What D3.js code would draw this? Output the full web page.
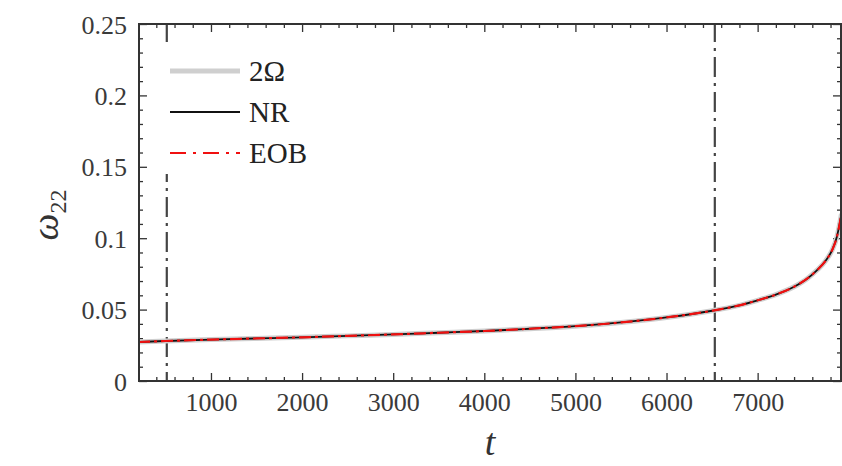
<!DOCTYPE html>
<html>
<head>
<meta charset="utf-8">
<script src="https://cdn.jsdelivr.net/npm/d3@7"></script>
<style>
  html, body { margin: 0; padding: 0; background: #fff; }
  svg { display: block; }
  svg text { font-family: "Liberation Serif", "Times New Roman", Times, "DejaVu Serif", serif !important; }
</style>
</head>
<body>
<svg id="chart" width="842" height="466"></svg>
<script>
// Time samples and frequency of the (2,2) mode
const tValues = [200, 500, 1000, 1500, 2000, 2500, 3000, 3500, 4000, 4500, 5000, 5500,
                 6000, 6500, 6800, 7000, 7200, 7400, 7550, 7650, 7750, 7820, 7870, 7900, 7920];
const omegaOrbit2 = [0.0273, 0.0280, 0.0290, 0.0298, 0.0306, 0.0316, 0.0326, 0.0338, 0.0350, 0.0366,
                     0.0384, 0.0410, 0.0445, 0.0492, 0.0530, 0.0565, 0.0605, 0.0660, 0.0720, 0.0775,
                     0.0845, 0.0920, 0.1010, 0.1100, 0.1170];
const omegaNR = [0.0273, 0.0280, 0.0290, 0.0298, 0.0306, 0.0316, 0.0326, 0.0338, 0.0350, 0.0366,
                 0.0384, 0.0410, 0.0445, 0.0492, 0.0530, 0.0565, 0.0605, 0.0660, 0.0720, 0.0775,
                 0.0845, 0.0920, 0.1010, 0.1100, 0.1170];
const omegaEOB = [0.0273, 0.0280, 0.0290, 0.0298, 0.0306, 0.0316, 0.0326, 0.0338, 0.0350, 0.0366,
                  0.0384, 0.0410, 0.0445, 0.0492, 0.0530, 0.0565, 0.0605, 0.0660, 0.0720, 0.0775,
                  0.0845, 0.0920, 0.1010, 0.1100, 0.1170];
const markerTimes = [515, 6530];
const xTicks = [1000, 2000, 3000, 4000, 5000, 6000, 7000];
const yTicks = [0, 0.05, 0.1, 0.15, 0.2, 0.25];
const yTickLabels = ["0", "0.05", "0.1", "0.15", "0.2", "0.25"];
const legendNames = ["2\u03A9", "NR", "EOB"];

const svg = d3.select("#chart");
const pLeft = 139, pTop = 24, pRight = 841, pBottom = 381;

const x = d3.scaleLinear().domain([210, 7915]).range([pLeft, pRight]);
const y = d3.scaleLinear().domain([0, 0.25]).range([pBottom, pTop]);

const frameColor = "#333";
const textColor = "#3a3a3a";

svg.append("defs").append("clipPath").attr("id", "plotClip")
  .append("rect").attr("x", pLeft).attr("y", pTop)
  .attr("width", pRight - pLeft).attr("height", pBottom - pTop);

// minor tick positions
const xMinor = d3.range(400, 7915, 200).filter(v => v % 1000 !== 0);
const yMinor = d3.range(0.01, 0.25, 0.01).filter(v => Math.abs(v / 0.05 - Math.round(v / 0.05)) > 1e-6);

function tickAxis(axisGen, transform) {
  const g = svg.append("g").attr("transform", transform).call(axisGen);
  g.attr("font-family", null);
  g.select(".domain").remove();
  g.selectAll(".tick line").attr("stroke", frameColor).attr("stroke-width", 1.3);
  return g;
}

// minor ticks (all four sides, pointing inward)
tickAxis(d3.axisBottom(x).tickValues(xMinor).tickSize(-4).tickFormat(""), `translate(0,${pBottom})`);
tickAxis(d3.axisTop(x).tickValues(xMinor).tickSize(-4).tickFormat(""), `translate(0,${pTop})`);
tickAxis(d3.axisLeft(y).tickValues(yMinor).tickSize(-4).tickFormat(""), `translate(${pLeft},0)`);
tickAxis(d3.axisRight(y).tickValues(yMinor).tickSize(-4).tickFormat(""), `translate(${pRight},0)`);

// major ticks with labels
const xAxis = tickAxis(d3.axisBottom(x).tickValues(xTicks).tickSize(-8).tickPadding(22).tickFormat(d3.format("d")),
  `translate(0,${pBottom})`);
xAxis.selectAll(".tick text").attr("font-size", 26).attr("fill", textColor).attr("dy", "0.3em");
tickAxis(d3.axisTop(x).tickValues(xTicks).tickSize(-8).tickFormat(""), `translate(0,${pTop})`);
const yAxis = tickAxis(d3.axisLeft(y).tickValues(yTicks).tickSize(-8).tickPadding(12)
  .tickFormat((d, i) => yTickLabels[i]), `translate(${pLeft},0)`);
yAxis.selectAll(".tick text").attr("font-size", 26).attr("fill", textColor).attr("dy", "0.35em");
tickAxis(d3.axisRight(y).tickValues(yTicks).tickSize(-8).tickFormat(""), `translate(${pRight},0)`);

// curves
const pts = (vals) => tValues.map((t, i) => [t, vals[i]]);
const line = d3.line().x(d => x(d[0])).y(d => y(d[1])).curve(d3.curveMonotoneX);
const plot = svg.append("g").attr("clip-path", "url(#plotClip)");

// vertical markers
plot.selectAll(".marker").data(markerTimes).enter().append("line")
  .attr("x1", d => x(d)).attr("x2", d => x(d))
  .attr("y1", pTop).attr("y2", pBottom)
  .attr("stroke", "#444").attr("stroke-width", 2.2)
  .attr("stroke-dasharray", "20,6,3,6").attr("stroke-dashoffset", 2);

plot.append("path").datum(pts(omegaOrbit2)).attr("d", line)
  .attr("fill", "none").attr("stroke", "#cfcfcf").attr("stroke-width", 5);
plot.append("path").datum(pts(omegaNR)).attr("d", line)
  .attr("fill", "none").attr("stroke", "#111").attr("stroke-width", 1.8);
plot.append("path").datum(pts(omegaEOB)).attr("d", line)
  .attr("fill", "none").attr("stroke", "#f01010").attr("stroke-width", 2.2)
  .attr("stroke-dasharray", "12,4,3,4");

// legend
const legend = svg.append("g");
legend.append("rect").attr("x", 152).attr("y", 44).attr("width", 140).attr("height", 130).attr("fill", "#fff");
const styles = [
  { stroke: "#cfcfcf", width: 5, dash: null },
  { stroke: "#111", width: 1.8, dash: null },
  { stroke: "#f01010", width: 2, dash: "16,7,3,7" }
];
const legendY = [71, 112, 153];
legendNames.forEach((name, i) => {
  legend.append("line").attr("x1", 170).attr("x2", 240)
    .attr("y1", legendY[i]).attr("y2", legendY[i])
    .attr("stroke", styles[i].stroke).attr("stroke-width", styles[i].width)
    .attr("stroke-dasharray", styles[i].dash);
  legend.append("text").attr("x", 249).attr("y", legendY[i] + 10)
    .attr("font-size", 29).attr("fill", "#222").text(name);
});

// frame
svg.append("rect").attr("x", pLeft).attr("y", pTop)
  .attr("width", pRight - pLeft).attr("height", pBottom - pTop)
  .attr("fill", "none").attr("stroke", frameColor).attr("stroke-width", 2);

// axis titles
svg.append("text").attr("x", 490).attr("y", 455).attr("text-anchor", "middle")
  .attr("font-size", 38).attr("font-style", "italic").attr("fill", "#333").text("t");
const yl = svg.append("text").attr("transform", "translate(58,215) rotate(-90)")
  .attr("text-anchor", "middle").attr("fill", "#333");
yl.append("tspan").attr("font-size", 38).attr("font-style", "italic").text("\u03C9");
yl.append("tspan").attr("font-size", 24).attr("dy", 8).text("22");
</script>
</body>
</html>
